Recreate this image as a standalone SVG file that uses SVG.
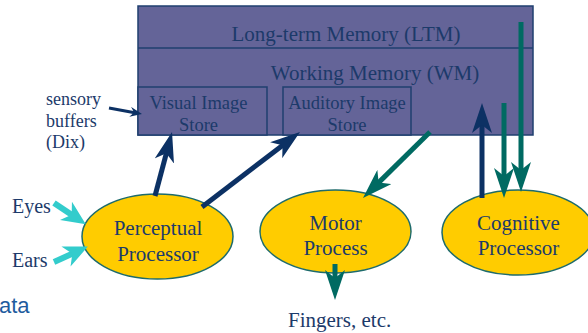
<svg xmlns="http://www.w3.org/2000/svg" width="588" height="333" viewBox="0 0 588 333">
<style>
.t{font-family:"Liberation Serif","Times New Roman",serif;fill:#1C3A6A}
.box{fill:#646498;stroke:#1F3F6F;stroke-width:1.5}
.ell{fill:#FFCC00;stroke:#1E6B6B;stroke-width:1.5}
.navy{stroke:#0C3164;stroke-width:5;fill:none}
.teal{stroke:#006A62;stroke-width:5;fill:none}
.cyan{stroke:#33CCCC;stroke-width:6;fill:none}
</style>
<defs>
<marker id="hn" viewBox="0 0 30 20" refX="12" refY="10" markerWidth="30" markerHeight="20" markerUnits="userSpaceOnUse" orient="auto"><path d="M0,0 L30,10 L0,20 L8,10 z" fill="#0C3164"/></marker>
<marker id="ht" viewBox="0 0 30 20" refX="12" refY="10" markerWidth="30" markerHeight="20" markerUnits="userSpaceOnUse" orient="auto"><path d="M0,0 L30,10 L0,20 L8,10 z" fill="#006A62"/></marker>
<marker id="hc" viewBox="0 0 24 22" refX="11" refY="11" markerWidth="24" markerHeight="22" markerUnits="userSpaceOnUse" orient="auto"><path d="M0,0 L24,11 L0,22 L7,11 z" fill="#33CCCC"/></marker>
<marker id="hs" viewBox="0 0 12 10" refX="6" refY="5" markerWidth="12" markerHeight="10" markerUnits="userSpaceOnUse" orient="auto"><path d="M0,0 L12,5 L0,10 L4,5 z" fill="#0C3164"/></marker>
</defs>

<g id="memory">
<rect class="box" x="138" y="6" width="395" height="129"/>
<line x1="138" y1="48" x2="533" y2="48" stroke="#1F3F6F" stroke-width="1.5"/>
<text class="t" x="346" y="41" font-size="21" text-anchor="middle">Long-term Memory (LTM)</text>
<text class="t" x="375" y="80" font-size="21" text-anchor="middle">Working Memory (WM)</text>
</g>
<g id="visual-store">
<rect class="box" x="138" y="87" width="129" height="48"/>
<text class="t" x="198.5" y="109" font-size="18.5" text-anchor="middle">Visual Image</text>
<text class="t" x="198.5" y="131" font-size="18.5" text-anchor="middle">Store</text>
</g>
<g id="auditory-store">
<rect class="box" x="283" y="87" width="128" height="48"/>
<text class="t" x="347" y="109" font-size="18.5" text-anchor="middle">Auditory Image</text>
<text class="t" x="347" y="131" font-size="18.5" text-anchor="middle">Store</text>
</g>
<g id="sensory-label">
<text class="t" x="46" y="105" font-size="18">sensory</text>
<text class="t" x="46" y="127" font-size="18">buffers</text>
<text class="t" x="46" y="148" font-size="18">(Dix)</text>
</g>
<g id="perceptual">
<ellipse class="ell" cx="157.5" cy="236.5" rx="75.5" ry="42.5"/>
<text class="t" x="158" y="235" font-size="21" text-anchor="middle">Perceptual</text>
<text class="t" x="158" y="261" font-size="21" text-anchor="middle">Processor</text>
</g>
<g id="motor">
<ellipse class="ell" cx="335.5" cy="231.5" rx="75.5" ry="41.5"/>
<text class="t" x="335.5" y="230" font-size="21" text-anchor="middle">Motor</text>
<text class="t" x="335.5" y="255" font-size="21" text-anchor="middle">Process</text>
</g>
<g id="cognitive">
<ellipse class="ell" cx="518" cy="232.5" rx="76" ry="42.5"/>
<text class="t" x="518.5" y="230" font-size="21" text-anchor="middle">Cognitive</text>
<text class="t" x="518.5" y="255" font-size="21" text-anchor="middle">Processor</text>
</g>
<g id="eyes"><text class="t" x="12" y="213" font-size="20">Eyes</text></g>
<g id="ears"><text class="t" x="12" y="267" font-size="20">Ears</text></g>
<g id="fingers"><text class="t" x="288" y="327" font-size="21">Fingers, etc.</text></g>
<text x="-1" y="313" font-family="'Liberation Sans',Arial,sans-serif" font-size="22" fill="#1F5C9E">ata</text>

<g id="connectors">
<line x1="109" y1="108" x2="136.1" y2="112.9" stroke="#0C3164" stroke-width="3" marker-end="url(#hs)"/>
<line class="navy" x1="155" y1="196" x2="167.4" y2="149.4" marker-end="url(#hn)"/>
<line class="navy" x1="202" y1="207" x2="285.7" y2="142.9" marker-end="url(#hn)"/>
<line class="teal" x1="430" y1="132" x2="375.8" y2="185.4" marker-end="url(#ht)"/>
<line class="teal" x1="335" y1="264" x2="335" y2="282" marker-end="url(#ht)"/>
<line class="navy" x1="482" y1="198" x2="482" y2="121" marker-end="url(#hn)"/>
<line class="teal" x1="504" y1="103" x2="504" y2="180" marker-end="url(#ht)"/>
<line class="teal" x1="521" y1="22" x2="521" y2="174" marker-end="url(#ht)"/>
<line class="cyan" x1="54" y1="203" x2="75" y2="217" marker-end="url(#hc)"/>
<line class="cyan" x1="54" y1="262" x2="76" y2="252" marker-end="url(#hc)"/>
</g>
</svg>
